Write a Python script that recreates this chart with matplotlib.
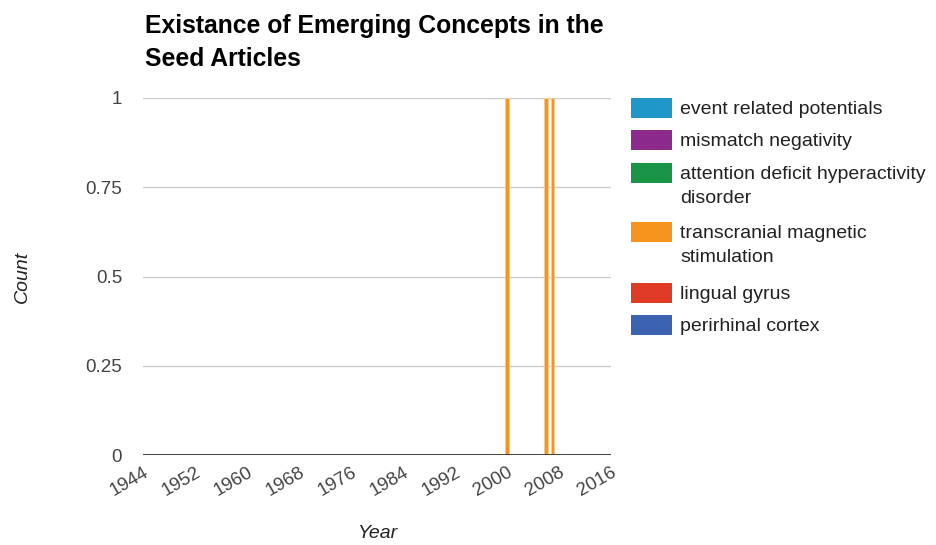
import matplotlib
matplotlib.use("Agg")
import matplotlib.pyplot as plt
from matplotlib.patches import Rectangle
import numpy as np

plt.rcParams['font.family'] = ['Liberation Sans', 'DejaVu Sans']

title = "Existance of Emerging Concepts in the\nSeed Articles"
years = [2000, 2006, 2007]
series_names = ["event related potentials", "mismatch negativity",
                "attention deficit hyperactivity\ndisorder",
                "transcranial magnetic\nstimulation", "lingual gyrus",
                "perirhinal cortex"]
series_colors = ["#1f97c9", "#8c2a8c", "#1a9446", "#f7941e", "#e03b27", "#3c63b2"]
event_related = [0, 0, 0]
mismatch = [0, 0, 0]
adhd = [0, 0, 0]
tms = [1, 1, 1]
lingual = [0, 0, 0]
perirhinal = [0, 0, 0]
series_values = [event_related, mismatch, adhd, tms, lingual, perirhinal]
x_ticks = list(range(1944, 2017, 8))
y_ticks = [0, 0.25, 0.5, 0.75, 1]
y_tick_labels = ["0", "0.25", "0.5", "0.75", "1"]

W, H = 937, 545
fig = plt.figure(figsize=(W / 100, H / 100), dpi=100)
ax = fig.add_axes([143 / W, 1 - 455 / H, (611 - 143) / W, (455 - 98) / H])

bottom = np.zeros(len(years))
for vals, col in zip(series_values, series_colors):
    v = np.array(vals, dtype=float)
    ax.bar(years, v, width=0.55, bottom=bottom, color=col, edgecolor="#fbc98c",
           linewidth=0.6, zorder=3)
    bottom += v

ax.set_xlim(1944, 2016)
ax.set_ylim(0, 1)
ax.set_yticks(y_ticks)
ax.set_yticklabels(y_tick_labels)
ax.set_xticks(x_ticks)
ax.set_xticklabels([str(t) for t in x_ticks], rotation=30, ha="right",
                   rotation_mode="anchor")
for s in ax.spines.values():
    s.set_visible(False)
ax.tick_params(axis="both", length=0, labelsize=13.5, colors="#444444")
ax.tick_params(axis="y", pad=15)
ax.tick_params(axis="x", pad=6.5)
for y in y_ticks[1:]:
    ax.axhline(y, color="#cccccc", linewidth=1, zorder=1)
ax.axhline(0, color="#333333", linewidth=1.3, zorder=4)

ax.set_xlabel("Year", fontstyle="italic", fontsize=14, color="#222222")
ax.set_ylabel("Count", fontstyle="italic", fontsize=14, color="#222222")
ax.xaxis.set_label_coords((378 - 143) / (611 - 143), -(525 - 455) / (455 - 98))
ax.yaxis.set_label_coords(-(143 - 31) / (611 - 143), 0.5)

fig.text(145 / W, 1 - 14 / H, title, fontsize=17.8, fontweight="bold",
         va="top", ha="left", color="#000000", linespacing=1.45)

# legend
legend_y = [108, 140, 173, 232, 293, 325]
for name, col, yc in zip(series_names, series_colors, legend_y):
    fig.patches.append(Rectangle((631 / W, 1 - (yc + 10) / H), 41 / W, 20 / H,
                                 transform=fig.transFigure, facecolor=col,
                                 edgecolor="none"))
    fig.text(680 / W, 1 - (yc - 7) / H, name, fontsize=14, color="#222222",
             va="top", ha="left", linespacing=1.55)

fig.savefig("out.png", dpi=100)
